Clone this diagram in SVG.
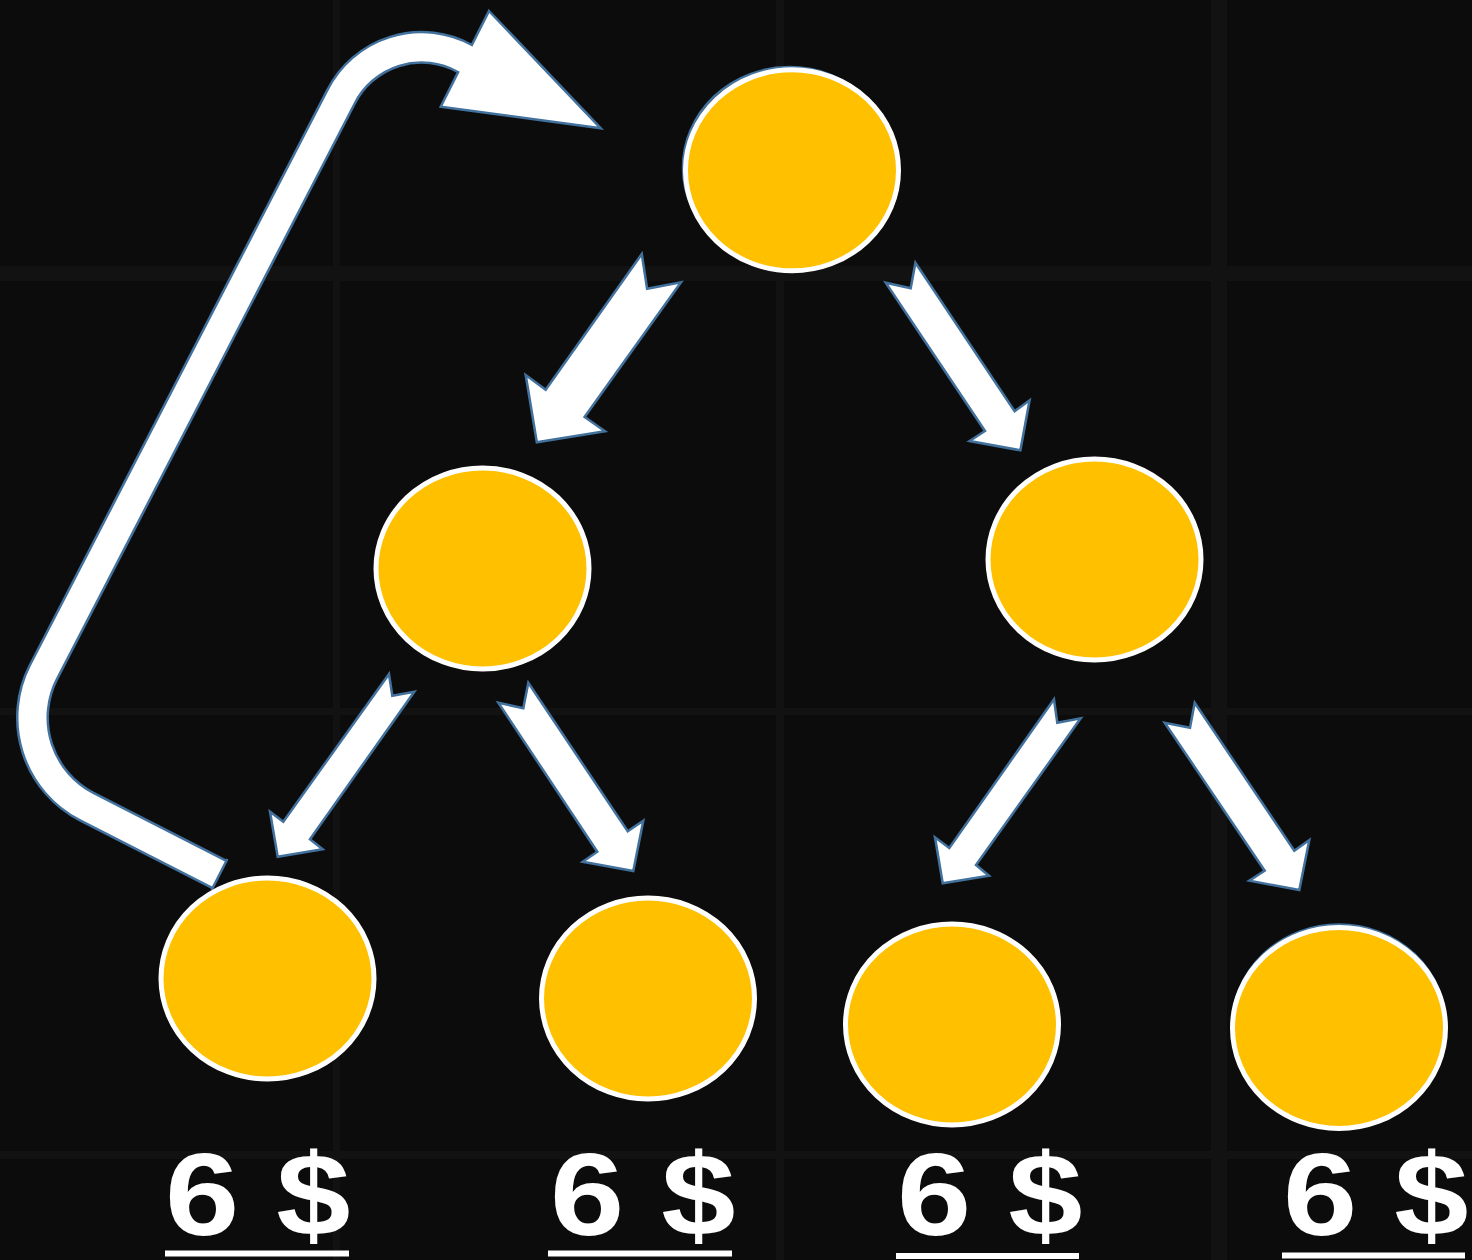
<svg xmlns="http://www.w3.org/2000/svg" width="1472" height="1260" viewBox="0 0 1472 1260">
<style>
.bg{fill:#0c0c0c}
.seam{fill:#121212}
.node{fill:#FFC000;stroke:#FFFFFF;stroke-width:5}
.ghost{fill:none;stroke:#41719C;stroke-width:2.5}
.arr{fill:#FFFFFF;stroke:#41719C;stroke-width:2.5;stroke-linejoin:miter}
.lbl{font-family:"Liberation Sans",Arial,sans-serif;font-weight:bold;font-size:116px;fill:#FFFFFF}
.ul{fill:#FFFFFF}
</style>
<rect class="bg" x="0" y="0" width="1472" height="1260"/>
<g id="seams">
<rect class="seam" x="333" y="0" width="7" height="1260"/>
<rect class="seam" x="776" y="0" width="8" height="1260"/>
<rect class="seam" x="1211" y="0" width="16" height="1260"/>
<rect class="seam" x="0" y="266" width="1472" height="15"/>
<rect class="seam" x="0" y="708" width="1472" height="7"/>
<rect class="seam" x="0" y="1151" width="1472" height="8"/>
</g>
<g id="connectors">
<polygon class="arr" points="641.8,254 647.1,288.7 681,282.3 584.6,417 605,431.3 536.8,442.3 525.7,375 545.7,389.7"/>
<polygon class="arr" points="915.4,262.7 910.7,288.3 885.7,282.7 985,431 969.6,441 1020.4,450.3 1029.6,400.3 1014.6,411.3"/>
<polygon class="arr" points="389,674 392.3,695.7 414.3,691.7 310,839.3 322.7,849.3 277.7,856.7 270,811.7 283.3,821.7"/>
<polygon class="arr" points="528.3,682.7 523.3,708.3 498.3,702.7 597.3,851.7 582.7,861.7 633.3,871 643.3,820.7 627.7,831.3"/>
<polygon class="arr" points="1054,699.3 1057.3,722.7 1080.7,718.3 976,865 989,875.7 942.7,883.3 935,837.3 949.3,848"/>
<polygon class="arr" points="1194.7,702.7 1190,727.7 1164.7,722.7 1264.7,870.7 1249.3,880.7 1299.3,890 1309.3,840 1294.3,850.7"/>
<g id="back-arrow">
<path d="M219.5,874.5 L86.5,806.5 A100,100 0 0 1 43.4,672.2 L341.1,96.7 A90,90 0 0 1 464.6,58.4" fill="none" stroke="#41719C" stroke-width="33"/>
<polygon class="arr" points="489,11 600.8,128.3 440.7,106.7"/>
<path d="M219.5,874.5 L86.5,806.5 A100,100 0 0 1 43.4,672.2 L341.1,96.7 A90,90 0 0 1 464.6,58.4 l4.4,2.4" fill="none" stroke="#FFFFFF" stroke-width="28"/>
<line x1="227.4" y1="859" x2="211.6" y2="890" stroke="#41719C" stroke-width="2.5"/>
</g>
</g>
<g id="root">
<ellipse class="ghost" cx="789.5" cy="167.5" rx="106.5" ry="100.5"/>
<ellipse class="node" cx="792" cy="170.3" rx="106.5" ry="100.5"/>
</g>
<g id="left-child">
<ellipse class="node" cx="482.5" cy="568.5" rx="106.5" ry="100.5"/>
</g>
<g id="right-child">
<ellipse class="node" cx="1094.5" cy="559.5" rx="106.5" ry="100.5"/>
</g>
<g id="leaf-1">
<ellipse class="node" cx="267.5" cy="978.5" rx="106.5" ry="100.5"/>
</g>
<g id="leaf-2">
<ellipse class="node" cx="648" cy="998.5" rx="106.5" ry="100.5"/>
</g>
<g id="leaf-3">
<ellipse class="node" cx="952" cy="1024.5" rx="106.5" ry="100.5"/>
</g>
<g id="leaf-4">
<ellipse class="ghost" cx="1339" cy="1025" rx="106.5" ry="100.5"/>
<ellipse class="node" cx="1339" cy="1028" rx="106.5" ry="100.5"/>
</g>
<g id="labels">
<text class="lbl" transform="translate(165,1235) scale(1.15,1)">6 $</text>
<rect class="ul" x="165" y="1250.5" width="184" height="6"/>
<text class="lbl" transform="translate(550,1235) scale(1.15,1)">6 $</text>
<rect class="ul" x="548" y="1250.5" width="184" height="6"/>
<text class="lbl" transform="translate(897,1235) scale(1.15,1)">6 $</text>
<rect class="ul" x="896" y="1253" width="183" height="6"/>
<text class="lbl" transform="translate(1283,1235) scale(1.15,1)">6 $</text>
<rect class="ul" x="1282" y="1252.5" width="183" height="6"/>
</g>
</svg>
